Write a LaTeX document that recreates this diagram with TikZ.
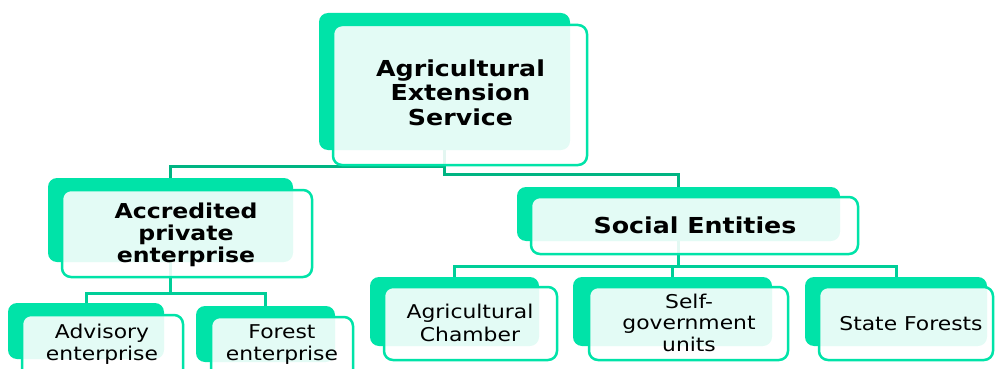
\documentclass[tikz,border=0pt]{standalone}
\usepackage{fontspec}
\newfontfamily\dvs[FakeStretch=1.15]{DejaVu Sans}
\usetikzlibrary{backgrounds}
\definecolor{boxgreen}{RGB}{0,227,168}
\definecolor{darkconn}{RGB}{0,180,130}
\definecolor{midconn}{RGB}{0,206,152}
\newcommand{\mltext}[1]{\begin{tabular}[t]{@{}c@{}}#1\end{tabular}}
\begin{document}
\begin{tikzpicture}[x=1pt,y=-1pt,
  backbox/.style={fill=boxgreen,draw=none,rounded corners=9pt,inner sep=0pt,outer sep=0pt},
  frontbox/.style={draw=boxgreen,line width=2.5pt,fill=white,fill opacity=0.89,rounded corners=9pt,inner sep=0pt,outer sep=0pt},
  lbl/.style={anchor=base,inner sep=0pt,text=black},
  topconn/.style={draw=darkconn,line width=3pt},
  lowconn/.style={draw=midconn,line width=3pt}
]
\useasboundingbox (0,0) rectangle (995,369);
% back rectangles
\node[backbox,minimum width=251pt,minimum height=137pt] (topB) at (444.5,81.5) {};
\node[backbox,minimum width=245pt,minimum height=84pt] (accB) at (170.5,220) {};
\node[backbox,minimum width=323pt,minimum height=54pt] (socB) at (678.5,214) {};
\node[backbox,minimum width=169pt,minimum height=69pt] (agB) at (454.5,311.5) {};
\node[backbox,minimum width=199pt,minimum height=69pt] (sgB) at (672.5,311.5) {};
\node[backbox,minimum width=182pt,minimum height=69pt] (sfB) at (896,311.5) {};
\node[backbox,minimum width=156pt,minimum height=56pt] (advB) at (86,331) {};
\node[backbox,minimum width=139pt,minimum height=56pt] (forB) at (265.5,334) {};
% front boxes
\node[frontbox,minimum width=254pt,minimum height=140pt] (topF) at (460,95) {};
\node[frontbox,minimum width=250pt,minimum height=87pt] (accF) at (187,233.5) {};
\node[frontbox,minimum width=327pt,minimum height=57pt] (socF) at (694.5,225.5) {};
\node[frontbox,minimum width=173pt,minimum height=73pt] (agF) at (470.5,323.5) {};
\node[frontbox,minimum width=199pt,minimum height=73pt] (sgF) at (688.5,323.5) {};
\node[frontbox,minimum width=174pt,minimum height=73pt] (sfF) at (906,323.5) {};
\node[frontbox,minimum width=161pt,minimum height=70pt] (advF) at (102.5,350) {};
\node[frontbox,minimum width=142pt,minimum height=68pt] (forF) at (282,351) {};
% texts
\node[lbl] (topT) at (460.5,76) {\dvs\bfseries\fontsize{22}{24.5}\selectfont\mltext{Agricultural\\Extension\\Service}};
\node[lbl] (accT) at (186,218) {\dvs\bfseries\fontsize{20.5}{22}\selectfont\mltext{Accredited\\private\\enterprise}};
\node[lbl] (socT) at (695,233) {\dvs\bfseries\fontsize{22}{24.5}\selectfont Social Entities};
\node[lbl] (agT) at (470,318) {\dvs\fontsize{19}{23}\selectfont\mltext{Agricultural\\Chamber}};
\node[lbl] (sgT) at (689,308) {\dvs\fontsize{19}{21.5}\selectfont\mltext{Self-\\government\\units}};
\node[lbl] (sfT) at (911,330) {\dvs\fontsize{19}{22}\selectfont State Forests};
\node[lbl] (advT) at (102,338) {\dvs\fontsize{19}{22}\selectfont\mltext{Advisory\\enterprise}};
\node[lbl] (forT) at (282,338) {\dvs\fontsize{19}{22}\selectfont\mltext{Forest\\enterprise}};
% connectors (behind the boxes)
\coordinate (j1) at (444.5,174);
\coordinate (j2) at (444.5,166.5);
\coordinate (j3) at (170.5,293.5);
\coordinate (j4) at (678.5,266);
\begin{scope}[on background layer]
\draw[topconn] (topB.center) -- (j1) -| (socB.north);
\draw[topconn] (j2) -| (accB.north);
\draw[lowconn] (accB.center) -- (j3);
\draw[lowconn] (j3) -| (advB.north);
\draw[lowconn] (j3) -| (forB.north);
\draw[lowconn] (socB.center) -- (j4);
\draw[lowconn] (j4) -| (agB.north);
\draw[lowconn] (j4) -| (sgB.north);
\draw[lowconn] (j4) -| (sfB.north);
\end{scope}
\end{tikzpicture}
\end{document}
